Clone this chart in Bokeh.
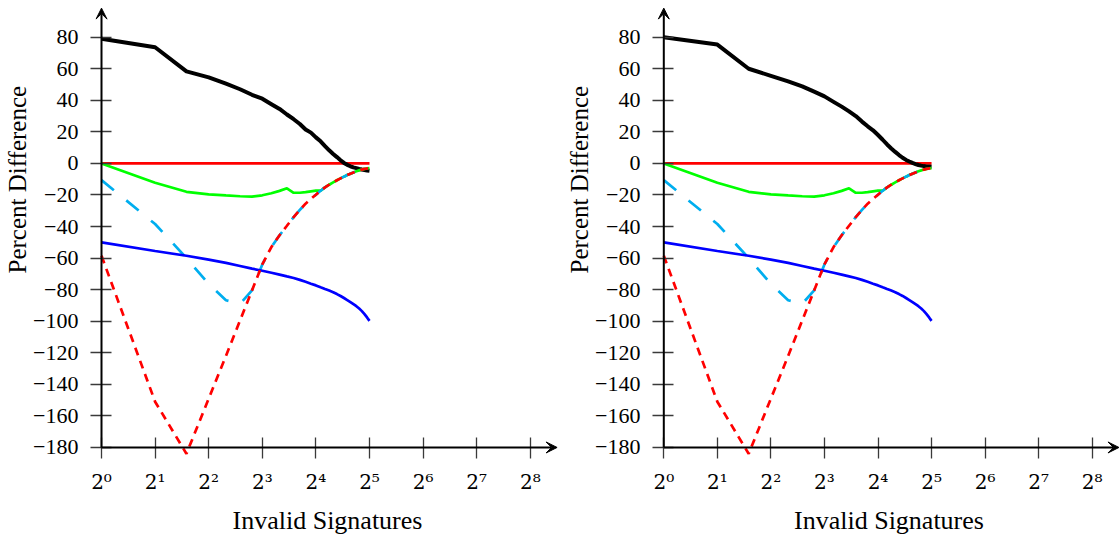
import math
from bokeh.plotting import figure
from bokeh.models import (FixedTicker, CustomJSTickFormatter, Arrow, VeeHead,
                          Range1d, Title)
from bokeh.layouts import row
from bokeh.embed import file_html
from bokeh.resources import INLINE

# ---------------- data ----------------
invalid_sigs = [1, 2, 3, 4, 5, 6, 7, 8, 9, 10, 11, 12, 13, 14, 15, 16,
                17, 18, 19, 20, 21, 22, 23, 24, 25, 26, 27, 28, 29, 30, 31, 32]

black_left = [79.0, 73.6, 58.3, 54.5, 50.5, 47.0, 43.5, 41.0, 37.5, 34.5, 31.0, 28.0,
              25.0, 21.5, 19.5, 16.5, 14.0, 11.0, 8.3, 6.0, 4.0, 2.0, 0.3, -0.9,
              -1.8, -2.5, -3.0, -3.5, -3.9, -4.2, -4.5, -4.7]

black_right = [80.0, 75.3, 60.0, 55.5, 52.0, 48.8, 45.5, 42.5, 39.0, 36.0, 33.0, 30.0,
               26.5, 23.5, 21.0, 18.0, 15.0, 12.0, 9.5, 7.3, 5.3, 3.6, 2.2, 1.2,
               0.3, -0.4, -1.0, -1.4, -1.7, -1.9, -2.0, -2.1]

baseline_x = [1, 32]
baseline_y = [0, 0]

green = [0.0, -12.3, -18.0, -19.6, -20.3, -20.8, -21.1, -20.2, -18.9, -17.4, -15.8, -18.6,
         -18.6, -18.2, -17.7, -17.3, -17.3, -15.2, -13.5, -12.0, -10.7, -9.5, -8.4, -7.4,
         -6.5, -5.7, -5.0, -4.4, -3.9, -3.5, -3.2, -3.0]

cyan_dashed = [-10.6, -38.4, -60.0, -76.4, -86.7, -89.0, -80.5, -64.0, -53.0, -45.5, -39.5, -34.0,
               -29.5, -25.5, -22.5, -19.8, -17.3, -15.2, -13.5, -12.0, -10.7, -9.5, -8.4, -7.4,
               -6.5, -5.7, -5.0, -4.4, -3.9, -3.5, -3.2, -3.0]

blue = [-50.0, -55.5, -58.5, -61.0, -63.0, -65.0, -66.7, -68.0, -69.3, -70.5, -71.6, -72.6,
        -73.8, -75.0, -76.2, -77.3, -78.5, -79.6, -80.6, -81.6, -82.8, -84.0, -85.3, -86.6,
        -87.9, -89.2, -90.5, -92.0, -93.6, -95.5, -97.6, -99.8]

red_dashed = [-58.5, -151.0, -184.0, -149.0, -122.0, -99.5, -80.5, -64.0, -53.0, -45.5, -39.5, -34.0,
              -29.5, -25.5, -22.5, -19.8, -17.3, -15.2, -13.5, -12.0, -10.7, -9.5, -8.4, -7.4,
              -6.5, -5.7, -5.0, -4.4, -3.9, -3.5, -3.2, -3.0]

x_tick_exponents = [0, 1, 2, 3, 4, 5, 6, 7, 8]
y_ticks = [-180, -160, -140, -120, -100, -80, -60, -40, -20, 0, 20, 40, 60, 80]

x_title = "Invalid Signatures"
y_title = "Percent Difference"

# ---------------- styling / layout ----------------
SERIF = "'Liberation Serif', 'DejaVu Serif', serif"
SUP_FONT = "'DejaVu Serif', serif"
PX_UNIT = 1.578
W, H = 560, 538
TOP, BOTTOM = 6, 80
Y_MIN = -187.0
AXIS_Y = -180
AXIS_X = 1
X_ARROW_END = 2 ** 8.5
Y_ARROW_END = 98.4


def panel(black, frame_left, axis_px, border_right, px_oct):
    d = axis_px - frame_left
    frame_w = W - frame_left - border_right
    u0 = -d / px_oct
    u1 = u0 + frame_w / px_oct
    frame_h = H - TOP - BOTTOM
    y_max = Y_MIN + frame_h / PX_UNIT
    dy = (AXIS_Y - Y_MIN) * PX_UNIT

    p = figure(width=W, height=H, x_axis_type="log",
               x_range=Range1d(2 ** u0, 2 ** u1), y_range=Range1d(Y_MIN, y_max),
               output_backend="svg", toolbar_location=None,
               min_border_left=frame_left, min_border_right=border_right,
               min_border_top=TOP, min_border_bottom=BOTTOM)
    p.outline_line_color = None
    p.grid.visible = False
    p.background_fill_color = "white"
    p.border_fill_color = "white"

    # axes (ticks & labels by Bokeh; axis lines drawn as arrows)
    p.xaxis.ticker = FixedTicker(ticks=[2 ** k for k in x_tick_exponents])
    p.yaxis.ticker = FixedTicker(ticks=y_ticks)
    p.xaxis.formatter = CustomJSTickFormatter(code="""
        const s = ['\\u2070','\\u00b9','\\u00b2','\\u00b3','\\u2074','\\u2075','\\u2076','\\u2077','\\u2078','\\u2079'];
        return '2' + s[Math.round(Math.log2(tick))];
    """)
    p.yaxis.formatter = CustomJSTickFormatter(code="""
        return tick < 0 ? '\\u2212' + Math.abs(tick) : String(tick);
    """)
    for ax in (p.xaxis, p.yaxis):
        ax.axis_line_color = None
        ax.major_tick_line_color = "#3a3a3a"
        ax.major_tick_line_width = 1.3
        ax.minor_tick_line_color = None
        ax.major_label_text_color = "black"
    p.yaxis.major_label_text_font = SERIF
    p.yaxis.major_label_text_font_size = "22px"
    p.xaxis.major_label_text_font = SUP_FONT
    p.xaxis.major_label_text_font_size = "20px"
    p.yaxis.major_tick_out = max(0, round(11 - d))
    p.yaxis.major_tick_in = round(10 + d)
    p.xaxis.major_tick_out = max(0, round(11 - dy))
    p.xaxis.major_tick_in = round(10 + dy)
    p.yaxis.major_label_standoff = 12
    p.xaxis.major_label_standoff = 11
    p.xaxis.axis_label = x_title
    p.xaxis.axis_label_text_font = SERIF
    p.xaxis.axis_label_text_font_size = "26px"
    p.xaxis.axis_label_text_font_style = "normal"
    p.xaxis.axis_label_text_color = "black"
    p.xaxis.axis_label_standoff = 9

    # y title placed to the left, shifted up like the original
    p.add_layout(Title(text=y_title, align="left", offset=(H - BOTTOM) - 273,
                       text_font=SERIF, text_font_size="25px",
                       text_font_style="normal", text_color="black",
                       standoff=0), "left")

    # series
    p.line(baseline_x, baseline_y, line_color="#ff0000", line_width=2.7)
    p.line(invalid_sigs, black, line_color="black", line_width=4, line_join="round")
    p.line(invalid_sigs, green, line_color="#00ff00", line_width=2.7)
    p.line(invalid_sigs, cyan_dashed, line_color="#00aeef", line_width=2.7,
           line_dash="16 16")
    p.line(invalid_sigs, blue, line_color="#0000ff", line_width=2.7)
    p.line(invalid_sigs, red_dashed, line_color="#ff0000", line_width=2.7,
           line_dash="8 6")

    # axis lines with arrow heads
    p.add_layout(Arrow(end=VeeHead(size=11, fill_color="black", line_color="black"),
                       line_color="black", line_width=2,
                       x_start=AXIS_X, y_start=AXIS_Y, x_end=X_ARROW_END, y_end=AXIS_Y))
    p.add_layout(Arrow(end=VeeHead(size=11, fill_color="black", line_color="black"),
                       line_color="black", line_width=2,
                       x_start=AXIS_X, y_start=AXIS_Y, x_end=AXIS_X, y_end=Y_ARROW_END))
    return p


p1 = panel(black_left, 95, 101, 1, 53.6)
p2 = panel(black_right, 97, 103.3, 0, 53.55)

layout = row(p1, p2)
open("out.html", "w", encoding="utf-8").write(file_html(layout, INLINE))
